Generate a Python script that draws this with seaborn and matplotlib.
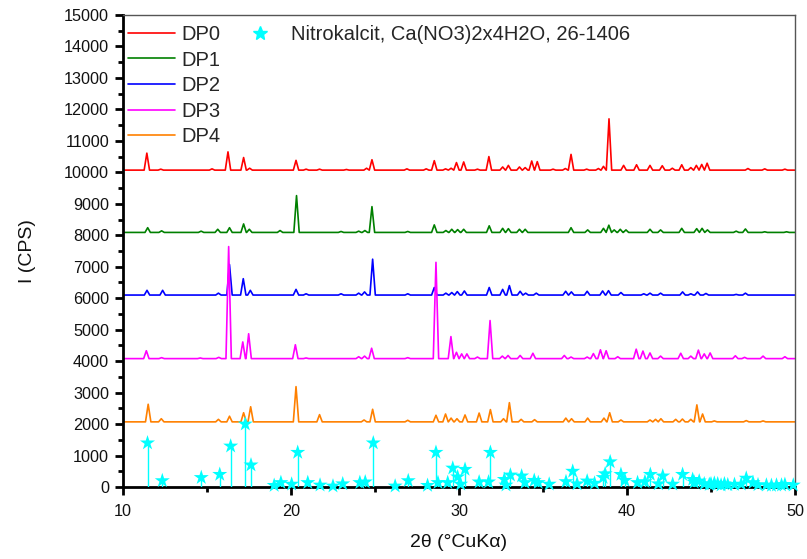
import numpy as np
import pandas as pd
import matplotlib
matplotlib.use("Agg")
import matplotlib.pyplot as plt
from matplotlib.lines import Line2D
import seaborn as sns

# ---------------- data ----------------
samples = ["DP0", "DP1", "DP2", "DP3", "DP4"]
colors = ["#ff0000", "#008000", "#0000ff", "#ff00ff", "#ff8000"]
baselines = [10070, 8090, 6100, 4080, 2070]

dp0_pos = [11.42, 12.25, 15.3, 16.25, 17.18, 17.54, 20.3, 20.9, 21.7, 23.3, 24.5, 24.82,
           26.9, 28.05, 28.53, 29.2, 29.53, 29.85, 30.28, 31.1, 31.78, 32.6, 32.94, 33.6,
           33.94, 34.33, 34.66, 35.6, 36.33, 36.67, 37.6, 38.3, 38.6, 38.93, 39.8, 40.57,
           41.37, 42.1, 42.7, 43.26, 43.8, 44.13, 44.45, 44.77, 47.2, 48.2, 49.4]
dp0_h = [540, 30, 40, 580, 400, 60, 310, 30, 30, 20, 60, 330,
         40, 40, 300, 40, 60, 240, 260, 30, 430, 100, 150, 100,
         80, 290, 270, 30, 50, 500, 30, 50, 120, 1630, 150, 170,
         150, 140, 60, 170, 80, 150, 180, 220, 50, 40, 30]

dp1_pos = [11.47, 12.3, 14.65, 15.64, 16.34, 17.18, 17.52, 19.35, 20.33, 22.98, 24.03,
           24.4, 24.82, 26.95, 28.53, 29.22, 29.57, 29.92, 30.28, 31.8, 32.6, 32.94,
           33.6, 33.94, 36.67, 37.66, 38.6, 38.92, 39.24, 39.6, 39.94, 41.37, 42.0,
           43.26, 44.15, 44.47, 44.79, 46.5, 47.05, 48.2, 49.5]
dp1_h = [150, 50, 40, 100, 150, 270, 100, 60, 1170, 30, 40,
         60, 820, 30, 240, 60, 100, 90, 100, 210, 130, 120,
         100, 100, 150, 80, 130, 230, 80, 100, 80, 100, 80,
         130, 120, 130, 80, 40, 110, 20, 20]

dp2_pos = [11.43, 12.36, 15.68, 16.34, 17.16, 17.58, 20.3, 20.9, 22.98, 24.03, 24.38,
           24.86, 26.95, 28.53, 29.22, 29.57, 29.9, 30.32, 31.8, 32.6, 33.0, 33.64,
           33.97, 34.6, 36.35, 36.69, 37.63, 38.55, 38.9, 39.64, 41.0, 41.37, 42.0,
           43.31, 43.8, 44.2, 44.7, 46.5, 47.05]
dp2_h = [150, 150, 60, 970, 520, 150, 180, 40, 40, 60, 100,
         1140, 40, 240, 60, 80, 110, 130, 240, 180, 300, 120,
         60, 60, 120, 100, 120, 130, 140, 80, 40, 60, 60,
         100, 40, 100, 50, 20, 60]

dp3_pos = [11.39, 12.3, 14.6, 15.7, 16.29, 17.13, 17.48, 20.26, 20.9, 24.03, 24.38,
           24.8, 26.95, 28.63, 29.52, 29.85, 30.16, 30.47, 31.1, 31.85, 32.58, 32.92,
           33.64, 34.4, 36.27, 36.67, 37.63, 38.0, 38.42, 38.76, 39.45, 40.55, 40.95,
           41.37, 42.0, 43.2, 43.8, 44.25, 44.6, 44.95, 46.45, 47.0, 48.1, 49.4]
dp3_h = [250, 30, 20, 40, 3560, 530, 790, 440, 20, 60, 80,
         330, 30, 3060, 700, 200, 150, 150, 50, 1210, 80, 100,
         100, 170, 100, 50, 50, 160, 280, 250, 60, 300, 240,
         180, 80, 170, 80, 270, 150, 180, 90, 40, 80, 60]

dp4_pos = [11.5, 12.28, 15.68, 16.34, 17.18, 17.6, 20.3, 21.7, 24.35, 24.86, 26.95,
           28.63, 29.2, 29.53, 29.88, 30.36, 31.2, 31.87, 32.65, 33.0, 33.7, 34.5,
           36.36, 36.7, 37.66, 38.63, 38.97, 39.64, 41.37, 41.7, 42.02, 42.9, 43.3,
           43.8, 44.16, 44.5, 45.2, 47.1, 48.1]
dp4_h = [560, 100, 80, 180, 290, 480, 1120, 230, 60, 400, 50,
         210, 250, 120, 100, 220, 280, 390, 100, 610, 80, 70,
         120, 100, 120, 120, 290, 60, 60, 80, 100, 80, 90,
         80, 540, 250, 30, 40, 30]

peak_pos = [dp0_pos, dp1_pos, dp2_pos, dp3_pos, dp4_pos]
peak_h = [dp0_h, dp1_h, dp2_h, dp3_h, dp4_h]

ref_label = "Nitrokalcit, Ca(NO3)2x4H2O, 26-1406"
ref_pos = [11.46, 12.34, 14.66, 15.76, 16.41, 17.28, 17.62, 19.0, 19.4, 20.04, 20.4,
           21.0, 21.73, 22.5, 23.08, 24.1, 24.42, 24.9, 26.2, 26.98, 28.13, 28.63,
           28.75, 29.33, 29.63, 29.92, 30.1, 30.36, 31.2, 31.76, 31.87, 32.7, 32.8,
           33.06, 33.73, 33.93, 34.48, 34.72, 35.37, 36.37, 36.77, 37.03, 37.63, 38.07,
           38.58, 38.7, 39.0, 39.64, 39.88, 40.63, 41.07, 41.39, 41.87, 42.13, 42.72,
           43.31, 43.91, 44.0, 44.3, 44.6, 44.9, 45.0, 45.2, 45.4, 45.6, 45.8, 46.0,
           46.4, 46.8, 47.1, 47.5, 47.8, 48.3, 48.6, 48.9, 49.2, 49.4, 49.9]
ref_int = [1400, 200, 300, 400, 1300, 2000, 700, 50, 140, 90, 1100,
           140, 60, 30, 100, 140, 160, 1400, 30, 200, 50, 1100,
           140, 140, 600, 320, 90, 560, 160, 160, 1100, 240, 60,
           380, 350, 140, 210, 140, 90, 170, 500, 100, 190, 120,
           300, 420, 800, 400, 210, 140, 170, 400, 100, 350, 90,
           400, 240, 150, 190, 100, 80, 100, 120, 100, 60, 100, 70,
           80, 90, 280, 140, 70, 60, 50, 60, 60, 80, 60]

x_min, x_max = 10, 50
y_min, y_max = 0, 15000
HALF_WIDTH = 0.16

# ---------------- build line vertices from the peak lists ----------------
rows = []
for name, base, pos, hts in zip(samples, baselines, peak_pos, peak_h):
    xs = [x_min, x_max]
    ys = [base, base]
    for p, h in zip(pos, hts):
        xs += [p - HALF_WIDTH, p, p + HALF_WIDTH]
        ys += [base, base + h, base]
    order = np.argsort(xs, kind="stable")
    for i in order:
        rows.append((name, xs[i], ys[i]))
df = pd.DataFrame(rows, columns=["sample", "two_theta", "intensity"])
ref_df = pd.DataFrame({"two_theta": ref_pos, "intensity": ref_int})

# ---------------- plot ----------------
sns.set_theme(style="white")
plt.rcParams["font.family"] = ["Liberation Sans", "DejaVu Sans"]

fig = plt.figure(figsize=(8.07, 5.59), dpi=100)
ax = fig.add_axes([0.1524, 0.1288, 0.8327, 0.8444])

sns.lineplot(data=df, x="two_theta", y="intensity", hue="sample",
             palette=dict(zip(samples, colors)), estimator=None, sort=False,
             linewidth=1.2, legend=False, ax=ax)

ax.vlines(ref_df["two_theta"], 0, ref_df["intensity"], color="#00ffff", linewidth=1.0, zorder=4)
sns.scatterplot(data=ref_df, x="two_theta", y="intensity", marker="*", s=130,
                color="#00ffff", edgecolor="none", linewidth=0, zorder=5,
                clip_on=False, legend=False, ax=ax)

ax.set_xlim(x_min, x_max)
ax.set_ylim(y_min, y_max)
ax.set_xticks(np.arange(10, 51, 10))
ax.set_xticks(np.arange(15, 50, 10), minor=True)
ax.set_yticks(np.arange(0, 15001, 1000))
ax.set_yticks(np.arange(500, 15000, 1000), minor=True)

for side in ["left", "bottom"]:
    ax.spines[side].set_color("black")
    ax.spines[side].set_linewidth(2.0)
for side in ["top", "right"]:
    ax.spines[side].set_color("#555555")
    ax.spines[side].set_linewidth(1.0)

ax.tick_params(axis="both", which="major", direction="out", length=6, width=2,
               color="black", labelsize=11.7, labelcolor="#111111",
               left=True, bottom=True)
ax.tick_params(axis="x", which="major", pad=6)
ax.tick_params(axis="y", which="major", pad=4)
ax.tick_params(axis="both", which="minor", direction="out", length=3.5, width=2,
               color="black", left=True, bottom=True)

ax.set_xlabel("2θ (°CuKα)", fontsize=14, color="#111111", labelpad=11)
ax.set_ylabel("I (CPS)", fontsize=14, color="#111111", labelpad=20)

handles = [Line2D([], [], color=c, linewidth=1.2) for c in colors]
leg1 = ax.legend(handles, samples, loc="upper left", bbox_to_anchor=(0.0068, 0.979),
                 frameon=False, fontsize=14.5, handlelength=2.35, handletextpad=0.3,
                 labelspacing=0.33, borderpad=0.0, borderaxespad=0.0)
ax.add_artist(leg1)
star_handle = Line2D([], [], color="#00ffff", marker="*", linestyle="none", markersize=10)
ax.legend([star_handle], [ref_label], loc="upper left", bbox_to_anchor=(0.1735, 0.979),
          frameon=False, fontsize=14.5, handlelength=2.0, handletextpad=0.55,
          borderpad=0.0, borderaxespad=0.0)

fig.savefig("out.png", dpi=100)
